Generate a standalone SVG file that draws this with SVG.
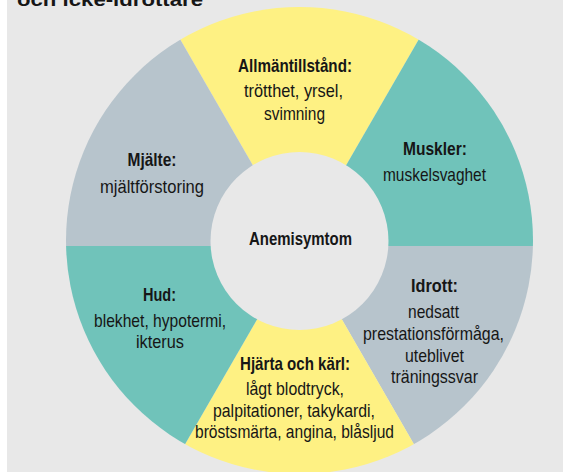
<svg xmlns="http://www.w3.org/2000/svg" width="563" height="472" viewBox="0 0 563 472">
<style>
.t{font-family:"Liberation Sans",Arial,sans-serif;font-size:19px;fill:#161616;text-anchor:middle}
.b{font-weight:bold}
.y{fill:#fef183}.g{fill:#b7c4cc}.c{fill:#70c3ba}
</style>
<defs>
<clipPath id="ring"><circle cx="299.5" cy="240.5" r="233.5"/></clipPath>
</defs>
<rect width="563" height="472" fill="#e8e8e8"/>
<rect width="7" height="472" fill="#ffffff"/>
<text class="t b" x="17" y="6" font-size="24" style="text-anchor:start" textLength="186" lengthAdjust="spacingAndGlyphs">och icke-idrottare</text>
<g clip-path="url(#ring)">
<g id="allmantillstand">
<polygon class="y" points="299.5,246 99.5,-100.4 499.5,-100.4"/>
</g>
<g id="muskler">
<polygon class="c" points="299.5,246 499.5,-100.4 699.5,246"/>
</g>
<g id="idrott">
<polygon class="g" points="299.5,246 699.5,246 499.5,592.4"/>
</g>
<g id="hjarta">
<polygon class="y" points="299.5,246 499.5,592.4 99.5,592.4"/>
</g>
<g id="hud">
<polygon class="c" points="299.5,246 99.5,592.4 -100.5,246"/>
</g>
<g id="mjalte">
<polygon class="g" points="299.5,246 -100.5,246 99.5,-100.4"/>
</g>
</g>
<g id="connectors"/>
<g id="labels">
<g id="allmantillstand-text">
<text class="t b" x="295" y="72" textLength="114" lengthAdjust="spacingAndGlyphs">Allmäntillstånd:</text>
<text class="t" x="293.5" y="97" textLength="99" lengthAdjust="spacingAndGlyphs">trötthet, yrsel,</text>
<text class="t" x="294.5" y="120" textLength="61" lengthAdjust="spacingAndGlyphs">svimning</text>
</g>
<g id="muskler-text">
<text class="t b" x="435" y="155" textLength="64" lengthAdjust="spacingAndGlyphs">Muskler:</text>
<text class="t" x="434.5" y="181" textLength="103" lengthAdjust="spacingAndGlyphs">muskelsvaghet</text>
</g>
<g id="mjalte-text">
<text class="t b" x="152" y="166" textLength="49" lengthAdjust="spacingAndGlyphs">Mjälte:</text>
<text class="t" x="152" y="193" textLength="104" lengthAdjust="spacingAndGlyphs">mjältförstoring</text>
</g>
<g id="idrott-text">
<text class="t b" x="434.5" y="292" textLength="47" lengthAdjust="spacingAndGlyphs">Idrott:</text>
<text class="t" x="433.5" y="318" textLength="51" lengthAdjust="spacingAndGlyphs">nedsatt</text>
<text class="t" x="433.5" y="340" textLength="141" lengthAdjust="spacingAndGlyphs">prestationsförmåga,</text>
<text class="t" x="434.5" y="362" textLength="59" lengthAdjust="spacingAndGlyphs">uteblivet</text>
<text class="t" x="434.5" y="383" textLength="87" lengthAdjust="spacingAndGlyphs">träningssvar</text>
</g>
<g id="hud-text">
<text class="t b" x="159.5" y="301" textLength="33" lengthAdjust="spacingAndGlyphs">Hud:</text>
<text class="t" x="160" y="327" textLength="132" lengthAdjust="spacingAndGlyphs">blekhet, hypotermi,</text>
<text class="t" x="160" y="348" textLength="48" lengthAdjust="spacingAndGlyphs">ikterus</text>
</g>
<g id="hjarta-text">
<text class="t b" x="295" y="370" textLength="110" lengthAdjust="spacingAndGlyphs">Hjärta och kärl:</text>
<text class="t" x="295" y="395" textLength="98" lengthAdjust="spacingAndGlyphs">lågt blodtryck,</text>
<text class="t" x="294" y="417" textLength="162" lengthAdjust="spacingAndGlyphs">palpitationer, takykardi,</text>
<text class="t" x="294.5" y="438" textLength="199" lengthAdjust="spacingAndGlyphs">bröstsmärta, angina, blåsljud</text>
</g>
</g>
<g id="center">
<circle cx="299.5" cy="241" r="89" fill="#e8e8e8"/>
<text class="t b" x="300.5" y="245" textLength="103" lengthAdjust="spacingAndGlyphs">Anemisymtom</text>
</g>
</svg>
